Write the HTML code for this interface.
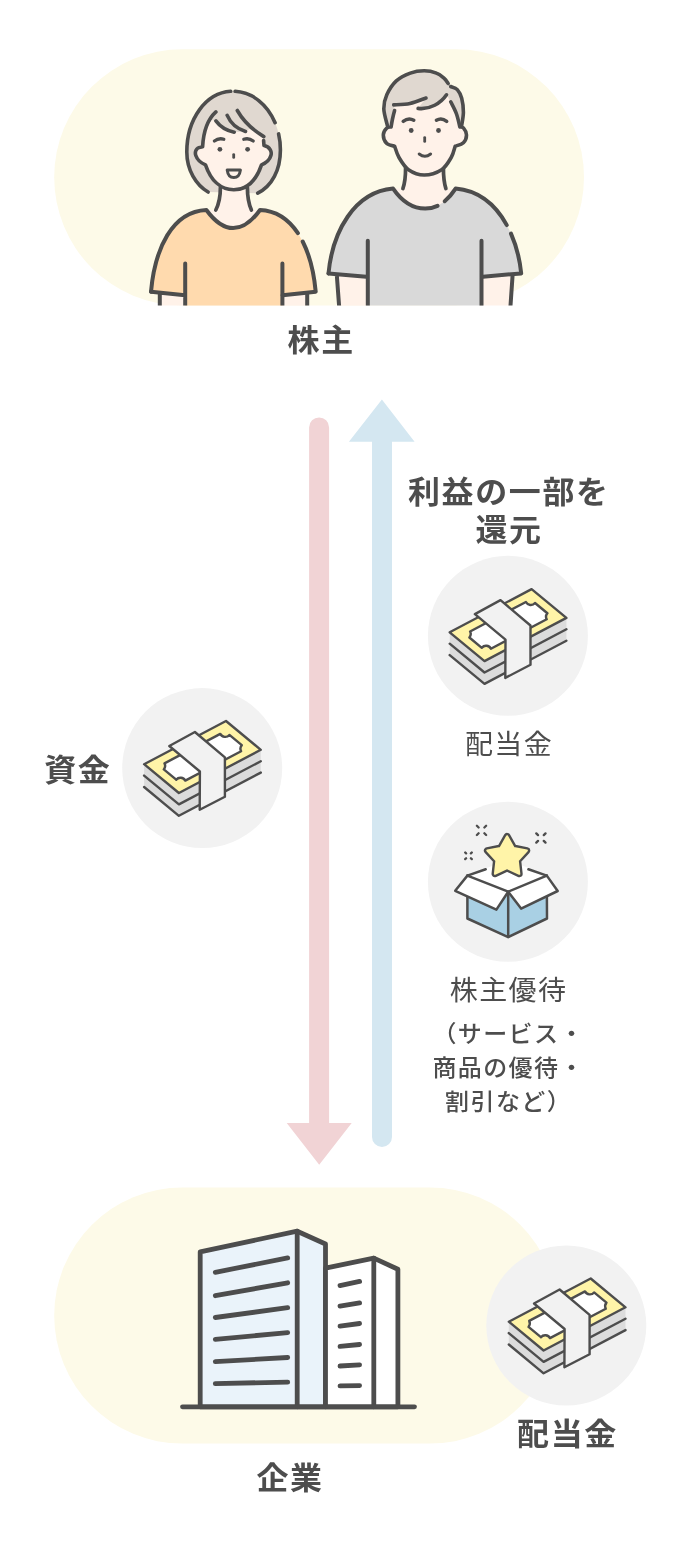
<!DOCTYPE html>
<html lang="ja">
<head>
<meta charset="utf-8">
<title>株主と企業の関係</title>
<style>
html,body{margin:0;padding:0;background:#fff;}
body{width:689px;height:1547px;overflow:hidden;font-family:"Liberation Sans","Noto Sans CJK JP",sans-serif;}
svg{display:block;will-change:transform;}
svg text{font-family:"Liberation Sans","Noto Sans CJK JP",sans-serif;fill:#4d4d4d;}
.b{font-weight:700;font-size:32px;letter-spacing:1.6px;}
.r{font-weight:400;font-size:28px;letter-spacing:1.4px;}
.s{font-weight:500;font-size:24px;letter-spacing:1.4px;}
.ln{fill:none;stroke:#4d4d4d;stroke-linecap:round;stroke-linejoin:round;}
</style>
</head>
<body>
<svg width="689" height="1547" viewBox="0 0 689 1547">
<rect x="54.2" y="49.3" width="529.8" height="256.1" rx="128.05" fill="#fdfae8"/>
<rect x="54.2" y="1187.5" width="503.8" height="256.1" rx="128.05" fill="#fdfae8"/>
<path d="M309.1 1123V427.4a10 10 0 0 1 20 0V1123H351.7L319.2 1164.7L286.7 1123Z" fill="#f1d3d5"/>
<path d="M372 441.8V1137a10 10 0 0 0 20 0V441.8H414.6L381.9 399.6L348.9 441.8Z" fill="#d4e7f1"/>
<defs><clipPath id="clipTop"><rect x="0" y="0" width="689" height="305.6"/></clipPath></defs>
<g clip-path="url(#clipTop)">
<path d="M208.1 192C196 185 186.8 170 186.8 152C186.8 118 207 91.2 233 91.2C259 91.2 280.4 117 280.4 150C280.4 170 272 186 257.7 193.2Z" fill="#e0d8d0"/>
<path d="M220.4 186Q220.4 201 215.8 210H206.4V232H260V210H251.4Q247.4 201 247.4 186Z" fill="#fff2e9"/>
<rect x="159.3" y="290" width="27" height="20" fill="#fff2e9"/>
<rect x="281" y="290" width="26.4" height="20" fill="#fff2e9"/>
<path d="M151 291.7C154.8 249 172 211.5 206.4 210C215 221.8 224 228.1 233.2 228.1C242.5 228.1 251.5 221.8 260 210C294.4 211.5 311.8 249 315.7 291.7L282.6 295.3V310H185V295.3Z" fill="#ffdaae"/>
<path class="ln" stroke-width="4" d="M151 291.7C154.8 249 172 211.5 206.4 210C215 221.8 224 228.1 233.2 228.1C242.5 228.1 251.5 221.8 260 210C276.3 210.7 288.8 219.5 297.9 233.2"/>
<path class="ln" stroke-width="4" d="M302.7 241.5C309.8 255.5 314 273.1 315.7 291.7L282.6 295.3"/>
<path class="ln" stroke-width="4" d="M151 291.7L185 295.3M185.2 263.4V310M282.4 263.4V310M159.8 293.5V310M307.2 293.5V310"/>
<path class="ln" stroke-width="3.7" d="M220.4 187.5Q220.4 201 215.8 210M247.4 187.5Q247.4 201 251.4 210"/>
<path d="M215.9 111.9C208 119 203.5 130 202.6 146.8L200.5 147.2C196 147.6 194.6 152 195.8 155.5C197.5 160.5 201 163 205.5 164.8C210.5 179.5 220 189.7 233.8 189.7C247.5 189.7 256.5 179.5 261.5 164.8C266 163 269.5 160.5 270.9 155.5C272 152 270.5 147 264 145.6L263.6 140.5L263.8 136.6C252 129.5 243 120.5 237.3 110.5L227.2 115.4Z" fill="#fff2e9"/>
<path d="M209.7 119.4L215.9 120.9C220 126.5 226 130.5 234.2 132.2L245.5 131.4L251.6 127.7C245.6 122.5 240.8 116.7 237.3 110.5L215.9 111.9C213.5 114 211.5 116.5 209.7 119.4Z" fill="#e0d8d0"/>
<path class="ln" stroke-width="3.6" d="M215.9 111.9C208 119 203.5 130 202.6 146.8L200.5 147.2C196 147.6 194.6 152 195.8 155.5C197.5 160.5 201 163 205.5 164.8C210.5 179.5 220 189.7 233.8 189.7C247.5 189.7 256.5 179.5 261.5 164.8C266 163 269.5 160.5 270.9 155.5C272 152 270.5 147 264 145.6L263.6 140.5"/>
<path class="ln" stroke-width="3.6" d="M230.7 91.3C205.8 92.8 186.8 119 186.8 152C186.8 170 196 185 208.1 192M235.1 91.3C252.4 92.2 267.5 104.6 275.1 122.7M278.6 133.9C279.8 139 280.4 144.4 280.4 150C280.4 170 272 186 257.7 193.2"/>
<path class="ln" stroke-width="3.6" d="M215.9 120.9C220 126.5 226 130.5 234.2 132.2M227.2 115.4C230.5 123 236.5 128.8 245.5 131.4M237.3 110.5C243 120.5 252 129.5 263.8 136.6"/>
<path class="ln" stroke-width="3.3" d="M214.4 141Q218.8 137.6 223.8 139.3M243.8 139.3Q248.8 137.6 253.2 141"/>
<circle cx="219.9" cy="149.3" r="2.4" fill="#4d4d4d"/><circle cx="247.6" cy="149.3" r="2.4" fill="#4d4d4d"/>
<path class="ln" stroke-width="2.8" d="M233.7 154.6V157.4"/>
<path class="ln" stroke-width="3" d="M227.2 170.1H240.4Q239.4 177.6 233.8 177.6Q228.2 177.6 227.2 170.1Z"/>
</g>
<g clip-path="url(#clipTop)">
<path d="M405.6 166Q405.6 181 402.9 188.6H393.1V212H455.6V188.6H445.9Q443.4 181 443.4 166Z" fill="#fff2e9"/>
<path d="M336.8 274L339.4 310H370V276Z" fill="#fff2e9"/>
<path d="M512.6 274L510 310H480V276Z" fill="#fff2e9"/>
<path d="M328.5 273.4C332.5 232 354 192 393.1 188.6C402 201.5 412.5 208.6 425.2 208.6C437.5 208.6 447 201.5 455.6 188.6C495 192 517 232 521.2 273.4L483 276.7V310H366.3V276.7Z" fill="#d9d9d9"/>
<path class="ln" stroke-width="4" d="M328.5 273.4C332.5 232 354 192 393.1 188.6C402 201.5 412.5 208.6 425.2 208.6C429.6 208.6 433.7 207.7 437.5 205.9"/>
<path class="ln" stroke-width="4" d="M444.7 201.2C448.6 198 452.2 193.8 455.6 188.6C478.6 190.6 495.7 205.1 506.8 225.1"/>
<path class="ln" stroke-width="4" d="M511 233.6C516.4 245.8 519.8 259.5 521.2 273.4L483 276.7"/>
<path class="ln" stroke-width="4" d="M328.5 273.4L366.3 276.7M367.8 240.8V310M481.5 240.8V310M336.8 275.2L339.4 310M512.6 275.2L510.2 310"/>
<path class="ln" stroke-width="3.7" d="M405.6 167.5Q405.6 181 402.9 188.6M443.4 167.5Q443.4 181 445.9 188.6"/>
<path d="M387.3 125.3C386.7 122.5 383.9 113.9 383.8 108.8C383.7 103.7 384.7 99.4 386.8 94.8C388.9 90.2 392.4 84.5 396.3 80.9C400.2 77.3 405.7 74.8 410.3 73.1C414.9 71.4 419.9 70.8 424.2 70.8C428.5 70.8 433.1 71.8 436.4 73.1C439.7 74.3 442.2 76.6 444.2 78.3C446.2 80 447.1 82.1 448.2 83.5C449.3 84.9 449.2 85.5 450.7 86.5C452.2 87.5 455.5 87.6 457.3 89.6C459.1 91.6 460.7 94.5 461.7 98.3C462.7 102.1 463.4 107.7 463.4 112.2C463.4 116.7 462 123.1 461.7 125.3L425 130Z" fill="#e0d8d0"/>
<path d="M394.6 110.5C394.2 111.9 393.1 116.2 392.5 119C391.9 121.8 391.3 125.7 391.1 127L391.1 127C390.4 127.2 388.1 126.6 386.8 127.9C385.5 129.2 383.3 132.3 383.3 134.9C383.3 137.5 384.9 141.7 386.8 143.6C388.7 145.5 393.3 145.8 394.6 146.2L394.6 146.2C395.3 148.1 396.7 153.6 399 157.5C401.3 161.4 404.3 166.8 408.5 169.7C412.7 172.6 418.7 175 424.2 175C429.7 175 437.1 172.6 441.6 169.7C446.1 166.8 448.9 161.4 451.2 157.5C453.5 153.6 454.5 148.1 455.2 146.2L455.2 146.2C456.6 145.6 461.5 144.6 463.4 142.7C465.3 140.8 466.5 137.4 466.5 134.9C466.5 132.4 464.5 129.2 463.4 127.9C462.3 126.6 460.5 127.2 459.9 127L459.9 127C459.3 124.8 458 118.2 456.5 114C455 109.8 451.7 103.8 450.7 101.8L446.5 94.8C441 103 430 110 418.1 108.4L426 98L426 98C423.3 98.9 415.4 102.3 410 103.5C404.6 104.7 396.4 104.7 393.7 104.9Z" fill="#fff2e9"/>
<path class="ln" stroke-width="3.6" d="M394.6 110.5C394.2 111.9 393.1 116.2 392.5 119C391.9 121.8 391.3 125.7 391.1 127L391.1 127C390.4 127.2 388.1 126.6 386.8 127.9C385.5 129.2 383.3 132.3 383.3 134.9C383.3 137.5 384.9 141.7 386.8 143.6C388.7 145.5 393.3 145.8 394.6 146.2L394.6 146.2C395.3 148.1 396.7 153.6 399 157.5C401.3 161.4 404.3 166.8 408.5 169.7C412.7 172.6 418.7 175 424.2 175C429.7 175 437.1 172.6 441.6 169.7C446.1 166.8 448.9 161.4 451.2 157.5C453.5 153.6 454.5 148.1 455.2 146.2L455.2 146.2C456.6 145.6 461.5 144.6 463.4 142.7C465.3 140.8 466.5 137.4 466.5 134.9C466.5 132.4 464.5 129.2 463.4 127.9C462.3 126.6 460.5 127.2 459.9 127L459.9 127C459.3 124.8 458 118.2 456.5 114C455 109.8 451.7 103.8 450.7 101.8"/>
<path class="ln" stroke-width="3.6" d="M387.3 125.3C386.7 122.5 383.9 113.9 383.8 108.8C383.7 103.7 384.7 99.4 386.8 94.8C388.9 90.2 392.4 84.5 396.3 80.9C400.2 77.3 405.7 74.8 410.3 73.1C414.9 71.4 419.9 70.8 424.2 70.8C428.5 70.8 433.1 71.8 436.4 73.1C439.7 74.3 442.2 76.6 444.2 78.3C446.2 80 447.5 82.6 448.2 83.5M450.7 86.5C451.8 87 455.5 87.6 457.3 89.6C459.1 91.6 460.7 94.5 461.7 98.3C462.7 102.1 463.4 107.7 463.4 112.2C463.4 116.7 462 123.1 461.7 125.3M393.7 104.9C396.4 104.7 404.6 104.7 410 103.5C415.4 102.3 423.3 98.9 426 98M418.1 108.4C430 110 441 103 446.5 94.8"/>
<path class="ln" stroke-width="3.5" d="M403.2 121.3Q408.5 117.2 413.8 120.2M436.4 120.2Q441.6 117.2 446.7 121.3"/>
<circle cx="411.2" cy="130.5" r="2.4" fill="#4d4d4d"/><circle cx="438.5" cy="130.5" r="2.4" fill="#4d4d4d"/>
<path class="ln" stroke-width="2.8" d="M424.7 137.6V141.4"/>
<path class="ln" stroke-width="3" d="M419.2 154Q424.9 158.4 430.6 154"/>
</g>
<circle cx="202.2" cy="768.1" r="80" fill="#f2f2f2"/>
<g transform="translate(202.9 768.4)">
<path d="M-58.8 -4.2L-24 24.6L57.9 -18.6L57.9 4.2L-24 47.4L-58.8 18.6Z" fill="#dcdcdc"/>
<path class="ln" stroke-width="2.4" d="M-58.8 7.2L-24 36L57.9 -7.2M-58.8 18.6L-24 47.4L57.9 4.2"/>
<path class="ln" stroke-width="2.4" style="fill:#fff4a8" d="M-58.8 -4.2L23.1 -47.4L57.9 -18.6L-24 24.6Z"/>
<path class="ln" stroke-width="2.4" style="fill:#fff" d="M-38.4 -5L17.4 -34.5A5.5 5.5 0 0 0 26.5 -33.5L38.9 -23.3A5.5 5.5 0 0 0 38.2 -17.2L-17.6 12.2A5.5 5.5 0 0 0 -26.7 11.3L-39.1 1A5.5 5.5 0 0 0 -38.4 -5Z"/>
<path class="ln" stroke-width="2.4" style="fill:#f2f2f2" d="M-33.6 -22.4L-8 -36.4L22 -11L22 28.3L-3.2 41.4L-3 3.1Z"/>
</g>
<circle cx="507.9" cy="635.8" r="80" fill="#f2f2f2"/>
<g transform="translate(508.5 636.5)">
<path d="M-58.8 -4.2L-24 24.6L57.9 -18.6L57.9 4.2L-24 47.4L-58.8 18.6Z" fill="#dcdcdc"/>
<path class="ln" stroke-width="2.4" d="M-58.8 7.2L-24 36L57.9 -7.2M-58.8 18.6L-24 47.4L57.9 4.2"/>
<path class="ln" stroke-width="2.4" style="fill:#fff4a8" d="M-58.8 -4.2L23.1 -47.4L57.9 -18.6L-24 24.6Z"/>
<path class="ln" stroke-width="2.4" style="fill:#fff" d="M-38.4 -5L17.4 -34.5A5.5 5.5 0 0 0 26.5 -33.5L38.9 -23.3A5.5 5.5 0 0 0 38.2 -17.2L-17.6 12.2A5.5 5.5 0 0 0 -26.7 11.3L-39.1 1A5.5 5.5 0 0 0 -38.4 -5Z"/>
<path class="ln" stroke-width="2.4" style="fill:#f2f2f2" d="M-33.6 -22.4L-8 -36.4L22 -11L22 28.3L-3.2 41.4L-3 3.1Z"/>
</g>
<g transform="translate(507.9 881.8)">
<circle r="80" fill="#f2f2f2"/>
<path class="ln" stroke-width="2.5" style="fill:#a9d0e4" d="M-40.5 -6.2L0.3 9.9L38.9 -6.2L39.1 36.7L0.3 55.3L-40.5 36.7Z"/>
<path class="ln" stroke-width="2.5" d="M0.3 9.9L0.3 55.3"/>
<path d="M-40.5 -6.2L0.3 -22L38.9 -6.2L0.3 9.9Z" fill="#fff"/>
<path class="ln" stroke-width="2.5" d="M-40.5 -6.2L-22.2 -12.5M38.9 -6.2L20.5 -12.5"/>
<path class="ln" stroke-width="2.5" style="fill:#fff" d="M-40.5 -6.2L-52.7 9L-11.5 27.8L0.3 9.9Z"/>
<path class="ln" stroke-width="2.5" style="fill:#fff" d="M38.9 -6.2L49.8 9.2L13.2 26.8L0.3 9.9Z"/>
<path d="M-0.8 -45.6L5.8 -33.9L19 -31.2L9.9 -21.3L11.4 -8L-0.8 -13.6L-13 -8L-11.5 -21.3L-20.6 -31.2L-7.4 -33.9Z" fill="#4d4d4d" stroke="#4d4d4d" stroke-width="6.8" stroke-linejoin="round"/>
<path d="M-0.8 -45.6L5.8 -33.9L19 -31.2L9.9 -21.3L11.4 -8L-0.8 -13.6L-13 -8L-11.5 -21.3L-20.6 -31.2L-7.4 -33.9Z" fill="#fff4a8" stroke="#fff4a8" stroke-width="2" stroke-linejoin="round"/>
<path class="ln" stroke-width="2.3" d="M-29.3 -54.3L-31 -56M-29.3 -48.5L-31 -46.8M-23.5 -54.3L-21.8 -56M-23.5 -48.5L-21.8 -46.8M30.1 -46.7L28.4 -48.4M30.1 -40.9L28.4 -39.2M35.9 -46.7L37.6 -48.4M35.9 -40.9L37.6 -39.2M-41.8 -28.4L-42.7 -29.3M-41.8 -23.6L-42.7 -22.7M-37 -28.4L-36.1 -29.3M-37 -23.6L-36.1 -22.7"/>
</g>
<path class="ln" stroke-width="4.8" style="fill:#eaf3fa" d="M200.2 1406.8V1251.8L297.2 1231.2L325.5 1244V1406.8Z"/>
<path class="ln" stroke-width="4.8" d="M297.2 1231.2V1406.8"/>
<path class="ln" stroke-width="4.8" d="M215.3 1272.3L287.7 1257.9M215.3 1295.7L287.7 1282.8M215.3 1317.5L287.7 1307.7M215.3 1339.4L287.7 1332.6M215.3 1361.7L287.7 1357.5M215.3 1383.6L287.7 1382.1"/>
<path class="ln" stroke-width="4.8" style="fill:#fff" d="M325.5 1406.8V1268.2L373.8 1258.1L397.9 1269.3V1406.8Z"/>
<path class="ln" stroke-width="4.8" d="M373.8 1258.1V1406.8"/>
<path class="ln" stroke-width="4.8" d="M340 1285.6L359.6 1281.4M340 1306.2L359.6 1302.9M340 1326.1L359.6 1323.5M340 1346.4L359.6 1344.5M340 1366L359.6 1364.9M340 1385.9L359.6 1385.6"/>
<path class="ln" stroke-width="4.8" d="M182.5 1406.8H414.5"/>
<circle cx="566.3" cy="1325.5" r="80" fill="#f2f2f2"/>
<g transform="translate(567.6 1325.9)">
<path d="M-58.8 -4.2L-24 24.6L57.9 -18.6L57.9 4.2L-24 47.4L-58.8 18.6Z" fill="#dcdcdc"/>
<path class="ln" stroke-width="2.4" d="M-58.8 7.2L-24 36L57.9 -7.2M-58.8 18.6L-24 47.4L57.9 4.2"/>
<path class="ln" stroke-width="2.4" style="fill:#fff4a8" d="M-58.8 -4.2L23.1 -47.4L57.9 -18.6L-24 24.6Z"/>
<path class="ln" stroke-width="2.4" style="fill:#fff" d="M-38.4 -5L17.4 -34.5A5.5 5.5 0 0 0 26.5 -33.5L38.9 -23.3A5.5 5.5 0 0 0 38.2 -17.2L-17.6 12.2A5.5 5.5 0 0 0 -26.7 11.3L-39.1 1A5.5 5.5 0 0 0 -38.4 -5Z"/>
<path class="ln" stroke-width="2.4" style="fill:#f2f2f2" d="M-33.6 -22.4L-8 -36.4L22 -11L22 28.3L-3.2 41.4L-3 3.1Z"/>
</g>
<text class="b" transform="translate(321.2 350.8) scale(1 0.965)" text-anchor="middle">株主</text>
<text class="b" transform="translate(508.8 502.6) scale(1 0.965)" text-anchor="middle">利益の一部を</text>
<text class="b" transform="translate(509 541.2) scale(1 0.965)" text-anchor="middle">還元</text>
<text class="r" transform="translate(509 754.1) scale(1 0.965)" text-anchor="middle">配当金</text>
<text class="b" transform="translate(77.8 780.8) scale(1 0.965)" text-anchor="middle">資金</text>
<text class="r" transform="translate(508.6 1000.1) scale(1 0.965)" text-anchor="middle">株主優待</text>
<text class="s" transform="translate(508.6 1041.7) scale(1 0.965)" text-anchor="middle">（サービス・</text>
<text class="s" transform="translate(508.6 1075.7) scale(1 0.965)" text-anchor="middle">商品の優待・</text>
<text class="s" transform="translate(508.6 1109.7) scale(1 0.965)" text-anchor="middle">割引など）</text>
<text class="b" transform="translate(567.5 1445.1) scale(1 0.965)" text-anchor="middle">配当金</text>
<text class="b" transform="translate(290 1489) scale(1 0.965)" text-anchor="middle">企業</text>
</svg>
</body>
</html>
